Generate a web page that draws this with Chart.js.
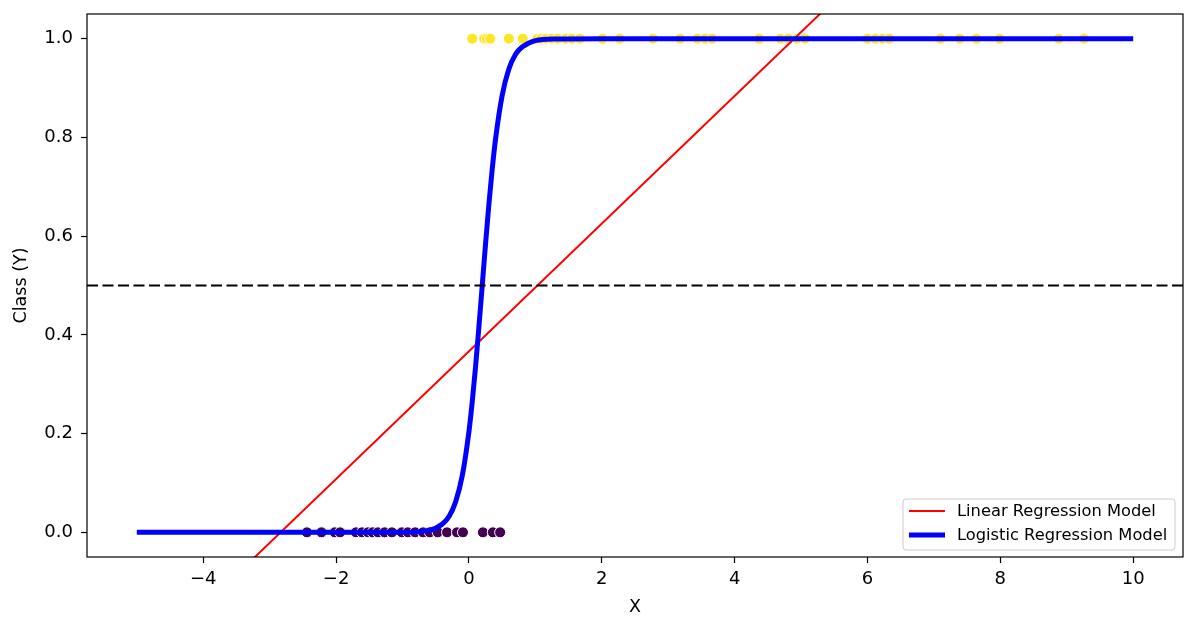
<!DOCTYPE html>
<html>
<head>
<meta charset="utf-8">
<script src="https://cdn.jsdelivr.net/npm/chart.js@4.4.1/dist/chart.umd.min.js"></script>
<style>
  html, body { margin: 0; padding: 0; background: #fff; }
  #wrap { width: 1195px; height: 631px; }
</style>
</head>
<body>
<div id="wrap"><canvas id="myChart" width="1195" height="631"></canvas></div>
<script>
// class 1 samples (yellow, y = 1)
const posX = [0.05, 0.23, 0.27, 0.32, 0.60, 0.81, 1.03, 1.09, 1.16, 1.25, 1.34, 1.46, 1.55, 1.67,
  2.01, 2.27, 2.77, 3.18, 3.44, 3.56, 3.66, 4.37, 4.69, 4.81, 4.94, 5.06,
  6.00, 6.12, 6.23, 6.33, 7.10, 7.39, 7.64, 7.99, 8.88, 9.26];
// class 0 samples (purple, y = 0)
const negX = [-2.44, -2.22, -2.02, -1.94, -1.70, -1.61, -1.52, -1.45, -1.37, -1.27, -1.16,
  -1.01, -0.92, -0.81, -0.69, -0.59, -0.47, -0.33, -0.18, -0.09, 0.21, 0.36, 0.47];

// linear regression line, read at its ends
const linX = [-5, 10];
const linY = [-0.28, 1.66];

// logistic curve
const logX = [-5, -2, -1, -0.6, -0.4, -0.3, -0.2, -0.1, 0, 0.05, 0.1, 0.15, 0.2, 0.25, 0.3,
  0.35, 0.4, 0.5, 0.6, 0.7, 0.8, 1.0, 1.3, 2, 10];
const logY = [0, 0, 0.0003, 0.004, 0.017, 0.032, 0.062, 0.115, 0.204, 0.265, 0.336, 0.416, 0.5,
  0.584, 0.664, 0.735, 0.796, 0.885, 0.938, 0.968, 0.983, 0.996, 0.9994, 1, 1];

const threshold = 0.5;

const xTicks = [-4, -2, 0, 2, 4, 6, 8, 10];
const yTicks = [0, 0.2, 0.4, 0.6, 0.8, 1.0];
const xMin = -5.75, xMax = 10.75;
const yMin = -0.05, yMax = 1.05;

const FONT = "'DejaVu Sans', sans-serif";

function pts(xs, y) {
  return xs.map(function (x, i) { return { x: x, y: Array.isArray(y) ? y[i] : y }; });
}

// matplotlib-like box frame and legend inside the axes
const framePlugin = {
  id: 'frame',
  afterDraw(chart) {
    const ctx = chart.ctx, a = chart.chartArea;
    ctx.save();
    ctx.strokeStyle = '#000';
    ctx.lineWidth = 1.2;
    ctx.strokeRect(a.left, a.top, a.right - a.left, a.bottom - a.top);

    // legend
    const items = chart.data.datasets.filter(d => d.showInLegend);
    const bx = 903, by = 499, bw = 272, bh = 51;
    ctx.globalAlpha = 0.8;
    ctx.fillStyle = '#fff';
    ctx.beginPath();
    ctx.roundRect(bx, by, bw, bh, 3);
    ctx.fill();
    ctx.globalAlpha = 1;
    ctx.strokeStyle = '#cccccc';
    ctx.lineWidth = 1;
    ctx.stroke();
    ctx.font = "16.3px " + FONT;
    ctx.textBaseline = 'middle';
    ctx.fillStyle = '#000';
    items.forEach(function (d, i) {
      const y = by + 12 + i * 24;
      ctx.strokeStyle = d.borderColor;
      ctx.lineWidth = d.borderWidth;
      ctx.lineCap = 'butt';
      ctx.beginPath();
      ctx.moveTo(bx + 6, y);
      ctx.lineTo(bx + 42, y);
      ctx.stroke();
      ctx.fillText(d.label, bx + 54, y + 1);
    });
    ctx.restore();
  }
};

const data = {
  datasets: [
    {
      type: 'line',
      label: 'Linear Regression Model',
      data: pts(linX, linY),
      borderColor: '#ff0000',
      borderWidth: 2,
      pointRadius: 0,
      showInLegend: true,
      order: 2
    },
    {
      type: 'line',
      label: 'Logistic Regression Model',
      data: pts(logX, logY),
      borderColor: '#0000ff',
      borderWidth: 5,
      pointRadius: 0,
      cubicInterpolationMode: 'monotone',
      showInLegend: true,
      order: 1
    },
    {
      type: 'line',
      label: 'threshold',
      data: pts([xMin, xMax], threshold),
      borderColor: '#000',
      borderWidth: 2.2,
      borderDash: [11, 4.5],
      pointRadius: 0,
      order: 0
    },
    {
      type: 'scatter',
      label: 'class 1',
      data: pts(posX, 1),
      backgroundColor: '#fde725',
      borderColor: '#ffffff',
      borderWidth: 1,
      pointRadius: 5.5,
      order: 3
    },
    {
      type: 'scatter',
      label: 'class 0',
      data: pts(negX, 0),
      backgroundColor: '#440154',
      borderColor: '#ffffff',
      borderWidth: 1,
      pointRadius: 5.5,
      order: 3
    }
  ]
};

const config = {
  type: 'scatter',
  data: data,
  options: {
    responsive: false,
    animation: false,
    events: [],
    layout: { padding: { top: 14, right: 12, left: 0, bottom: 0 } },
    plugins: { legend: { display: false }, tooltip: { enabled: false } },
    scales: {
      x: {
        type: 'linear',
        min: xMin,
        max: xMax,
        afterBuildTicks: s => { s.ticks = xTicks.map(v => ({ value: v })); },
        afterFit: s => { s.height = 74; s.paddingLeft = 0; s.paddingRight = 0; },
        border: { display: false },
        grid: { drawOnChartArea: false, color: '#000', tickLength: 6, tickWidth: 1.2 },
        ticks: {
          color: '#000',
          font: { family: FONT, size: 18 },
          padding: 6,
          maxRotation: 0,
          callback: v => v < 0 ? '\u2212' + Math.abs(v) : String(v)
        },
        title: { display: true, text: 'X', color: '#000', font: { family: FONT, size: 17.5 }, padding: { top: 0, bottom: 13 } }
      },
      y: {
        type: 'linear',
        min: yMin,
        max: yMax,
        afterBuildTicks: s => { s.ticks = yTicks.map(v => ({ value: v })); },
        afterFit: s => { s.width = 87; s.paddingTop = 0; s.paddingBottom = 0; },
        border: { display: false },
        grid: { drawOnChartArea: false, color: '#000', tickLength: 6, tickWidth: 1.2 },
        ticks: {
          color: '#000',
          font: { family: FONT, size: 18 },
          padding: 8,
          callback: v => v.toFixed(1)
        },
        title: { display: true, text: 'Class (Y)', color: '#000', font: { family: FONT, size: 17.5 }, padding: { top: 11, bottom: 0 } }
      }
    }
  },
  plugins: [framePlugin]
};

new Chart(document.getElementById('myChart'), config);
</script>
</body>
</html>
